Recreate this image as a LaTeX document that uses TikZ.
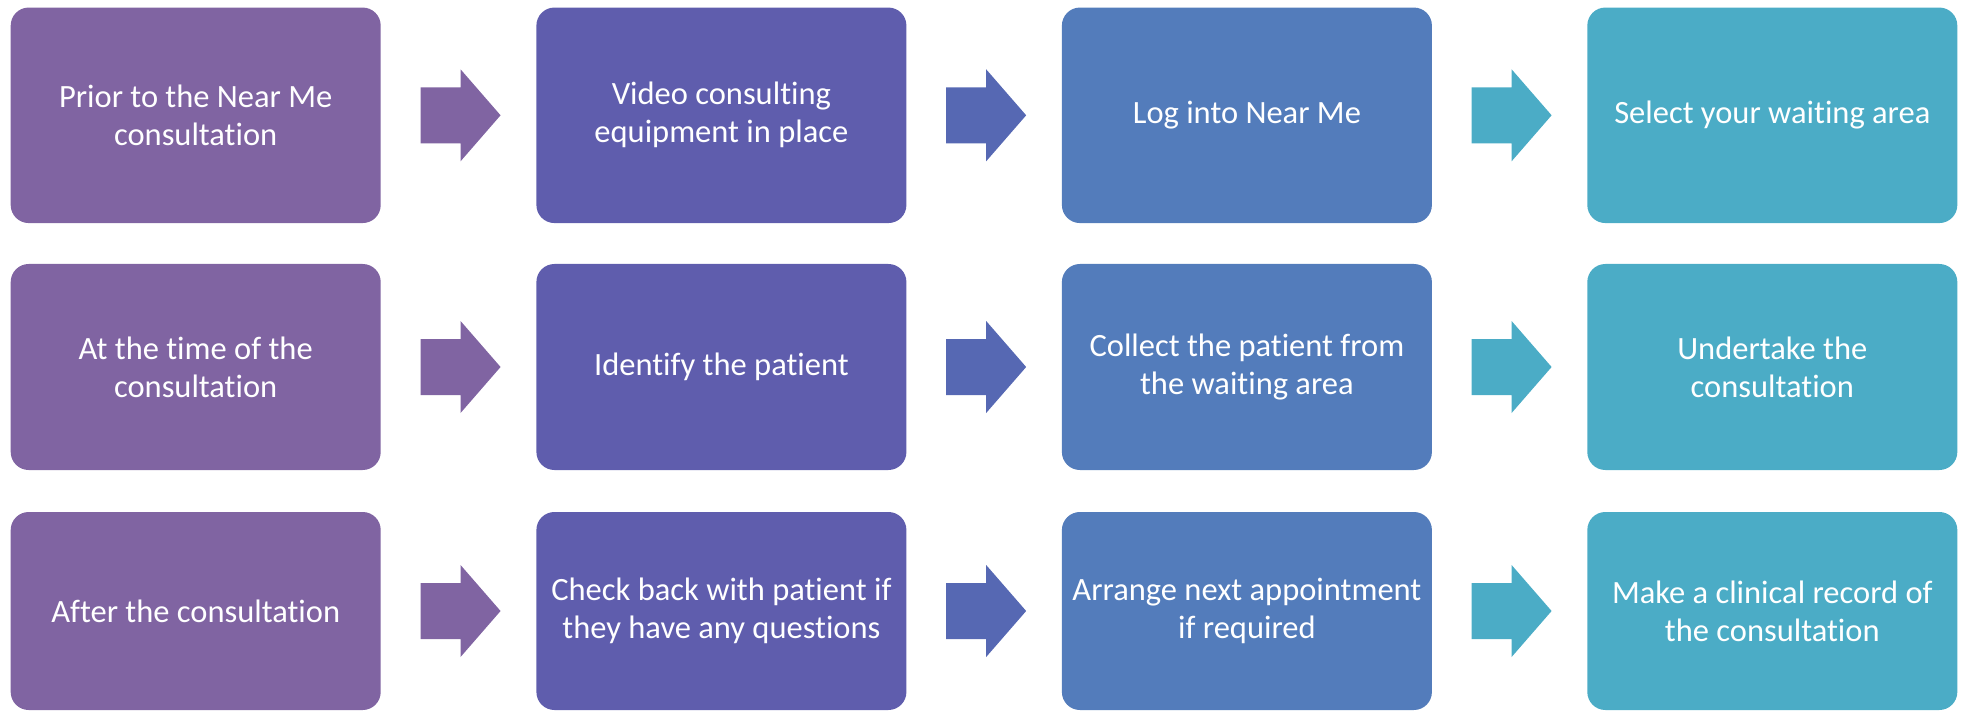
\documentclass[tikz,border=0pt]{standalone}
\usepackage{fontspec}
\setmainfont{Carlito}[Ligatures={NoCommon,NoContextual}]
\usetikzlibrary{calc}
\definecolor{stepA}{HTML}{8064A2}
\definecolor{stepB}{HTML}{5F5DAD}
\definecolor{stepC}{HTML}{537CBB}
\definecolor{stepD}{HTML}{4BACC6}
\definecolor{arrowB}{HTML}{5668B3}
\tikzset{
  stage/.style={rectangle, rounded corners=18pt, draw=none, text=white,
    minimum width=370pt, inner sep=6pt, align=center,
    font=\fontsize{32.5}{38}\selectfont},
  row1/.style={minimum height=215.5pt},
  row2/.style={minimum height=206pt},
  row3/.style={minimum height=198pt},
}
% block arrow placed midway between two boxes
\newcommand\blockarrow[3]{%
  \fill[#3] ($(#1.east)!0.5!(#2.west)+(-38,-28)$) -- ++(40,0) -- ++(0,-18)
    -- ++(40,46) -- ++(-40,46) -- ++(0,-18) -- ++(-40,0) -- cycle;}
\begin{document}
\begin{tikzpicture}[x=1pt,y=-1pt]
\useasboundingbox (0,0) rectangle (1969,711);
% row 1
\node[stage,row1,fill=stepA] (a1) at (195.7,115.3) {Prior to the Near Me\\consultation};
\node[stage,row1,fill=stepB] (b1) at (721.4,115.3) {Video consulting\\equipment in place};
\node[stage,row1,fill=stepC] (c1) at (1246.9,115.3) {Log into Near Me};
\node[stage,row1,fill=stepD] (d1) at (1772.3,115.3) {Select your waiting area};
% row 2
\node[stage,row2,fill=stepA] (a2) at (195.7,367) {At the time of the\\consultation};
\node[stage,row2,fill=stepB] (b2) at (721.4,367) {Identify the patient};
\node[stage,row2,fill=stepC] (c2) at (1246.9,367) {Collect the patient from\\the waiting area};
\node[stage,row2,fill=stepD] (d2) at (1772.3,367) {Undertake the\\consultation};
% row 3
\node[stage,row3,fill=stepA] (a3) at (195.7,611) {After the consultation};
\node[stage,row3,fill=stepB] (b3) at (721.4,611) {Check back with patient if\\they have any questions};
\node[stage,row3,fill=stepC] (c3) at (1246.9,611) {Arrange next appointment\\if required};
\node[stage,row3,fill=stepD] (d3) at (1772.3,611) {Make a clinical record of\\the consultation};
% arrows
\foreach \r in {1,2,3}{
  \blockarrow{a\r}{b\r}{stepA}
  \blockarrow{b\r}{c\r}{arrowB}
  \blockarrow{c\r}{d\r}{stepD}
}
\end{tikzpicture}
\end{document}
